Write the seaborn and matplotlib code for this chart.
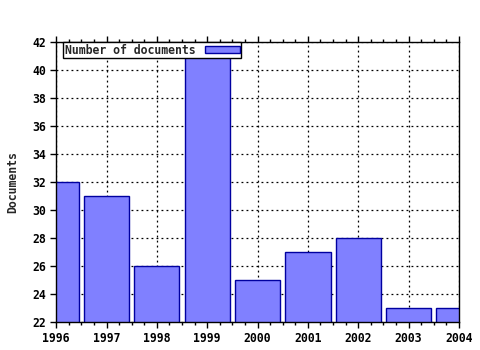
import matplotlib
matplotlib.use("Agg")
import matplotlib.pyplot as plt
import seaborn as sns
import pandas as pd
from matplotlib.ticker import AutoMinorLocator, MultipleLocator

years = ["1996", "1997", "1998", "1999", "2000", "2001", "2002", "2003", "2004"]
documents = [32, 31, 26, 41, 25, 27, 28, 23, 23]
series_name = "Number of documents"

df = pd.DataFrame({"year": years, "docs": documents})

sns.set_style("white")
plt.rcParams["font.family"] = ["DejaVu Sans Mono", "DejaVu Sans"]
plt.rcParams["font.weight"] = "bold"

fig = plt.figure(figsize=(4.8, 3.5), dpi=100)
ax = fig.add_axes([0.117, 0.08, 0.839, 0.80])

sns.barplot(data=df, x="year", y="docs", ax=ax, color="#8080ff", saturation=1,
            width=0.9, edgecolor="#0000a0", linewidth=1.0, label=series_name,
            zorder=2)

ax.set_xlim(0, 8)
ax.set_ylim(22, 42)
ax.yaxis.set_major_locator(MultipleLocator(2))
ax.xaxis.set_minor_locator(AutoMinorLocator(4))

ax.grid(True, which="major", color="black", linestyle=(0, (1.5, 2.5)), linewidth=0.9, zorder=1)
ax.set_axisbelow(True)

for s in ax.spines.values():
    s.set_color("black")
    s.set_linewidth(1.0)
    s.set_visible(True)

ax.tick_params(axis="x", which="major", direction="out", length=4, width=1,
               colors="black", labelsize=8.3, top=True, bottom=True, pad=3)
ax.tick_params(axis="x", which="minor", direction="out", length=2, width=1,
               colors="black", top=True, bottom=True)
ax.tick_params(axis="y", which="major", direction="out", length=4, width=1,
               colors="black", labelsize=8.3, left=True, pad=3)
for lbl in ax.get_xticklabels() + ax.get_yticklabels():
    lbl.set_fontweight("bold")

ax.set_xlabel("")
ax.set_ylabel("Documents", fontsize=8.3, fontweight="bold", labelpad=10)

leg = ax.legend(loc="upper left", bbox_to_anchor=(0.018, 1.0), markerfirst=False,
                frameon=True, fancybox=False, edgecolor="black", framealpha=1,
                prop={"size": 8.3, "weight": "bold"}, handlelength=3.0, handleheight=0.6,
                borderpad=0.15, borderaxespad=0.0, handletextpad=0.8)
leg.get_frame().set_linewidth(1.0)

fig.savefig("out.png", dpi=100)
